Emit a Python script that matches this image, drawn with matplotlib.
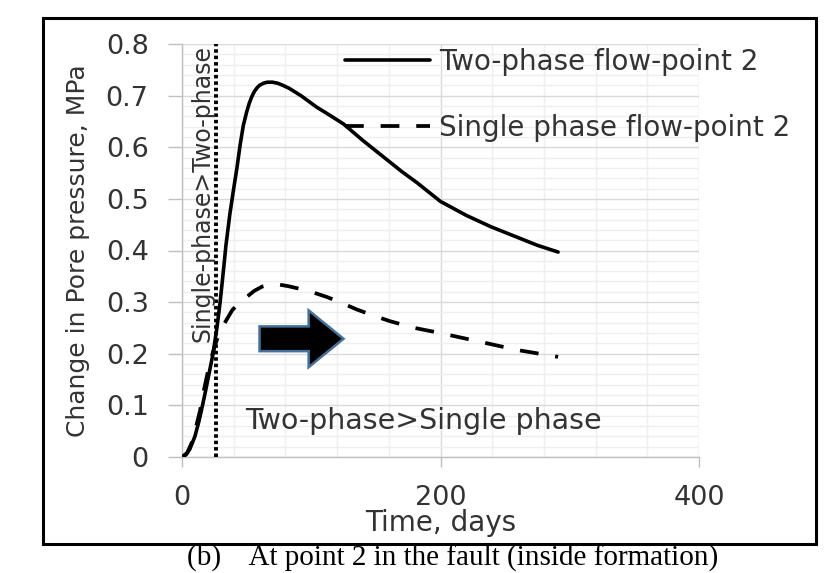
import matplotlib
matplotlib.use("Agg")
import matplotlib.pyplot as plt
import matplotlib.patches as mpatches
from matplotlib.ticker import MultipleLocator

# ---- data ----
two_phase_days = [0, 3, 6, 10, 13, 15, 18, 20, 22, 24, 27, 29.5, 32, 34, 37, 40, 42.5, 45,
                  47.5, 50, 52, 54, 56, 58, 60, 63, 66, 70, 74, 78, 83, 92, 104, 115, 125,
                  140, 156, 170, 182, 200, 220, 239, 260, 275, 291]
two_phase_dp = [0, 0.004, 0.015, 0.04, 0.068, 0.09, 0.125, 0.15, 0.175, 0.2, 0.25, 0.3, 0.36,
                0.41, 0.47, 0.52, 0.56, 0.605, 0.643, 0.668, 0.685, 0.698, 0.708, 0.715,
                0.72, 0.724, 0.726, 0.726, 0.724, 0.72, 0.714, 0.7, 0.678, 0.661, 0.645,
                0.613, 0.581, 0.553, 0.531, 0.495, 0.468, 0.446, 0.425, 0.41, 0.397]

single_phase_days = [0, 4, 8, 11, 14, 17, 20, 23, 26, 29, 32, 35, 39, 44, 50, 56, 62, 68, 75,
                     82, 89, 100, 112, 124, 135, 148, 161, 180, 200, 231, 260, 291]
single_phase_dp = [0, 0.008, 0.03, 0.06, 0.09, 0.13, 0.165, 0.195, 0.22, 0.24, 0.255, 0.268,
                   0.285, 0.297, 0.31, 0.322, 0.33, 0.334, 0.334, 0.331, 0.327, 0.32, 0.31,
                   0.298, 0.286, 0.274, 0.263, 0.25, 0.24, 0.223, 0.207, 0.194]

series_labels = ["Two-phase flow-point 2", "Single phase flow-point 2"]
switch_day = 26.5
x_ticks = [0, 200, 400]
y_ticks = [0, 0.1, 0.2, 0.3, 0.4, 0.5, 0.6, 0.7, 0.8]
x_label = "Time, days"
y_label = "Change in Pore pressure, MPa"
note_vertical = "Single-phase>Two-phase"
note_horizontal = "Two-phase>Single phase"
caption = "(b)    At point 2 in the fault (inside formation)"
arrow_start_day, arrow_len_days, arrow_level = 60, 65, 0.229

TXT = "#333333"

fig = plt.figure(figsize=(8.32, 5.73), dpi=100)
fig.patch.set_facecolor("white")
ax = fig.add_axes([182 / 832, 1 - 457 / 573, (699 - 182) / 832, (457 - 44) / 573])

ax.set_xlim(0, 400)
ax.set_ylim(0, 0.8)
ax.xaxis.set_major_locator(MultipleLocator(200))
ax.xaxis.set_minor_locator(MultipleLocator(40))
ax.yaxis.set_major_locator(MultipleLocator(0.1))
ax.yaxis.set_minor_locator(MultipleLocator(0.02))
ax.set_xticks(x_ticks)
ax.set_yticks(y_ticks)
ax.set_yticklabels(["0" if v == 0 else f"{v:.1f}" for v in y_ticks])

ax.grid(which="major", color="#d9d9d9", lw=1.0, zorder=0)
ax.grid(which="minor", color="#efefef", lw=1.0, zorder=0)
ax.set_axisbelow(True)
for s in ["top", "right"]:
    ax.spines[s].set_visible(False)
for s in ["left", "bottom"]:
    ax.spines[s].set_color("#bfbfbf")
    ax.spines[s].set_linewidth(1.0)
ax.tick_params(axis="y", which="major", length=10, width=1, color="#bfbfbf", pad=14,
               labelsize=19.5, labelcolor=TXT)
ax.tick_params(axis="x", which="major", length=7, width=1, color="#bfbfbf", pad=13,
               labelsize=19.5, labelcolor=TXT)
ax.tick_params(which="minor", length=0)

ax.plot(two_phase_days, two_phase_dp, color="black", lw=2.6, solid_capstyle="round",
        solid_joinstyle="round", label=series_labels[0], zorder=4)
ax.plot(single_phase_days, single_phase_dp, color="black", lw=2.7,
        linestyle=(0, (5, 4.5)), dash_capstyle="butt", label=series_labels[1], zorder=4)
ax.axvline(switch_day, ymin=0, ymax=1, color="black", lw=2.8, linestyle=(0, (0.9, 0.75)),
           zorder=3)

ax.text(15.5, 0.51, note_vertical, rotation=90, ha="center", va="center", fontsize=17,
        color=TXT, zorder=5)
ax.text(49, 0.07, note_horizontal, ha="left", va="center", fontsize=20.5, color=TXT, zorder=5)

arrow = mpatches.FancyArrow(arrow_start_day, arrow_level, arrow_len_days, 0, width=0.048,
                            head_width=0.11, head_length=27, length_includes_head=True,
                            facecolor="black", edgecolor="#41719c", lw=1.8, zorder=5)
ax.add_patch(arrow)

leg = ax.legend(loc="upper left", bbox_to_anchor=(0.315, 0.99), frameon=False,
                fontsize=20, handlelength=3.05, handletextpad=0.35, labelspacing=1.35,
                borderaxespad=0, borderpad=0)
for t in leg.get_texts():
    t.set_color(TXT)
leg.set_zorder(6)

ax.set_xlabel(x_label, fontsize=20, color=TXT, labelpad=-1)
ax.set_ylabel(y_label, fontsize=18, color=TXT, labelpad=11)

frame = mpatches.Rectangle((43 / 832, 1 - 544 / 573), (816 - 43) / 832, (544 - 18) / 573,
                           transform=fig.transFigure, fill=False, edgecolor="black", lw=2.2)
fig.patches.append(frame)
fig.text(453 / 832, 1 - 558 / 573, caption, ha="center", va="center",
         fontsize=21, family="Liberation Serif", color="black")

fig.savefig("out.png", dpi=100, facecolor="white")
